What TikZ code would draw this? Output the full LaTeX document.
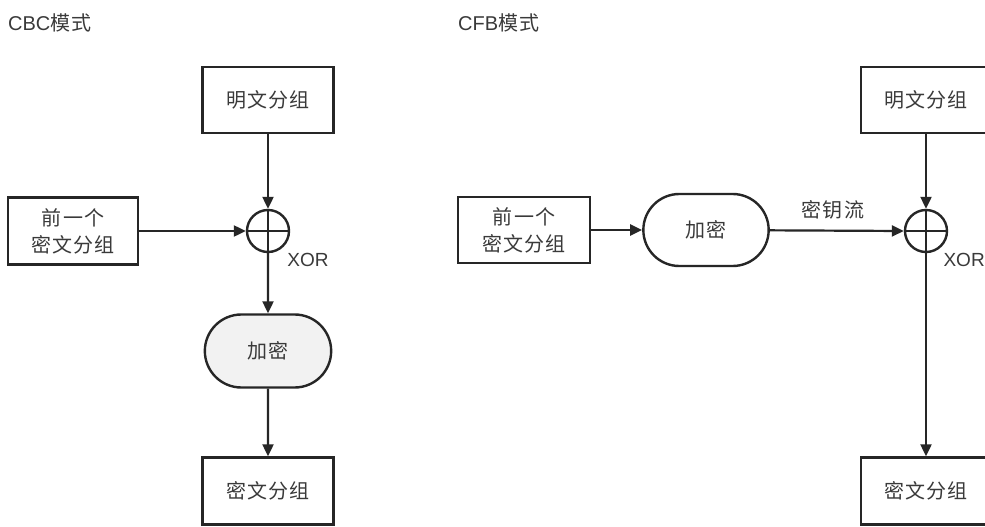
\documentclass[tikz,border=0pt]{standalone}
\usepackage{fontspec}
\setmainfont{Liberation Sans}
\newfontfamily\cjk[LetterSpace=6]{Noto Sans CJK SC}
\usetikzlibrary{arrows.meta,shapes.misc}
\definecolor{ink}{HTML}{262626}
\definecolor{txt}{HTML}{3A3A3A}
\tikzset{
  every node/.style={text=txt},
  blk/.style={draw=ink,line width=2.4pt,rectangle,minimum width=131pt,minimum height=66pt,
    align=center,font=\cjk\fontsize{20}{27}\selectfont},
  encbox/.style={draw=ink,line width=2.4pt,rounded rectangle,minimum width=132pt,minimum height=72pt,
    font=\cjk\fontsize{20}{27}\selectfont},
  xorc/.style={draw=ink,line width=2.4pt,circle,minimum size=42pt,inner sep=0pt},
  lbl/.style={font=\fontsize{19}{22}\selectfont},
  cjklbl/.style={font=\cjk\fontsize{20}{22}\selectfont},
  conn/.style={draw=ink,line width=2.2pt,-{Triangle[length=12pt,width=11pt]}},
  plain/.style={draw=ink,line width=2.2pt},
}
\begin{document}
\begin{tikzpicture}[x=1pt,y=-1pt]
\clip (0,0) rectangle (985,527);
\fill[white] (0,0) rectangle (985,527);
% ---------- CBC ----------
\node[anchor=west,inner sep=0pt,font=\fontsize{20}{22}\selectfont] (t1) at (8,23) {CBC{\cjk 模式}};
\node[blk] (pt1) at (268,100) {明文分组};
\node[xorc] (x1) at (268,231) {};
\draw[plain] (x1.north) -- (x1.south) (x1.west) -- (x1.east);
\node[blk,minimum width=130pt,minimum height=67pt] (pv1) at (73,231) {前一个\\密文分组};
\node[lbl] (xl1) at (308,260) {XOR};
\node[encbox,fill=black!5,minimum width=133pt,minimum height=73pt] (e1) at (268,351) {加密};
\node[blk,minimum height=67pt] (ct1) at (268,491) {密文分组};
\draw[conn] (pt1) -- (x1.north);
\draw[conn] (pv1) -- (x1.west);
\draw[conn] (x1.south) -- (e1);
\draw[conn] (e1) -- (ct1);
% ---------- CFB ----------
\node[anchor=west,inner sep=0pt,font=\fontsize{20}{22}\selectfont] (t2) at (458,23) {CFB{\cjk 模式}};
\node[blk,minimum width=132pt] (pv2) at (524,230) {前一个\\密文分组};
\node[encbox] (e2) at (706,230) {加密};
\node[xorc] (x2) at (926,231) {};
\draw[plain] (x2.north) -- (x2.south) (x2.west) -- (x2.east);
\node[cjklbl] (ks) at (833,210) {密钥流};
\node[lbl,anchor=west] (xl2) at (940,260) {XOR};
\node[blk,minimum width=130pt] (pt2) at (926,100) {明文分组};
\node[blk,minimum width=130pt,minimum height=67pt] (ct2) at (926,491) {密文分组};
\draw[conn] (pv2) -- (e2);
\draw[conn] (e2) -- (x2.west);
\draw[conn] (pt2) -- (x2.north);
\draw[conn] (x2.south) -- (ct2);
\end{tikzpicture}
\end{document}
